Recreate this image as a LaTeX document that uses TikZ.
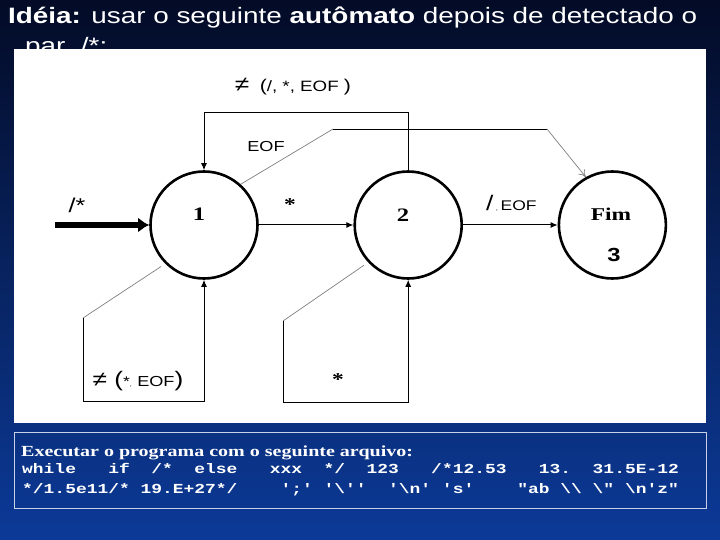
\documentclass[tikz,border=0pt]{standalone}
\usepackage{fontspec}
\setmainfont[FakeStretch=1.3]{Liberation Serif}
\setsansfont[FakeStretch=1.25]{Liberation Sans}
\setmonofont[FakeStretch=1.3]{Liberation Mono}
\usetikzlibrary{arrows.meta,positioning}
\definecolor{bgtop}{HTML}{030B26}
\definecolor{bgbot}{HTML}{0C3A98}
\definecolor{rim}{HTML}{C8D2E6}

\begin{document}
\begin{tikzpicture}[x=1pt,y=-1pt,node distance=94.6pt,
 st/.style={circle,draw,line width=2.6pt,minimum size=107pt,inner sep=0pt},
 lb/.style={inner sep=0pt,font=\sffamily\fontsize{15}{15}\selectfont},
 num/.style={inner sep=0pt,font=\bfseries\fontsize{19}{19}\selectfont},
 tw/.style={inner sep=0pt,anchor=base west,text=white},
 a/.style={-{Latex[length=7pt,width=6pt]},line width=1pt},
 dg/.style={draw=gray,line width=.7pt}]
\useasboundingbox (0,0) rectangle (720,540);
\shade[top color=bgtop,bottom color=bgbot] (0,0) rectangle (720,540);
\node[tw,font=\sffamily\fontsize{22.3}{26}\selectfont] (ttl) at (8,24) {\textbf{Idéia:} usar o seguinte \textbf{autômato} depois de detectado o};
\node[tw,font=\sffamily\fontsize{22.3}{26}\selectfont] (ttl2) at (25,54) {par~~/*:};
\fill[white] (14,49) rectangle (706,423);
\draw[rim,line width=.8pt] (14,432) rectangle (706,508);
\node[tw,font=\bfseries\fontsize{15.4}{18}\selectfont] (cap) at (21,456) {Executar o programa com o seguinte arquivo:};
\node[tw,font=\ttfamily\bfseries\fontsize{13.8}{16}\selectfont] (code1) at (22,473) {while~~~if~~/*~~else~~~xxx~~*/~~123~~~/*12.53~~~13.~~31.5E-12};
\node[tw,font=\ttfamily\bfseries\fontsize{13.8}{16}\selectfont] (code2) at (22,493) {*/1.5e11/*~19.E+27*/~~~~';'~'\textbackslash''~~'\textbackslash n'~'s'~~~~"ab~\textbackslash\textbackslash~\textbackslash"~\textbackslash n'z"};

\node[st] (s1) at (204,225) {};
\node[st,right=of s1] (s2) {};
\node[st,right=of s2] (s3) {};
\node[num] (n1) at (199,214) {1};
\node[num] (n2) at (403,215) {2};
\node[num,font=\bfseries\fontsize{18}{18}\selectfont] (fim) at (611,214) {Fim};
\node[num,font=\sffamily\bfseries\fontsize{19}{19}\selectfont] (n3) at (614,255) {3};

\coordinate (in) at (55,225);
\draw[line width=5.5pt,-{Latex[length=11pt,width=15pt]}] (in) -- (s1);
\node[lb,font=\sffamily\fontsize{20}{20}\selectfont] (lin) at (77,205) {/*};
\draw[a] (s1) -- (s2);
\node[num,font=\bfseries\fontsize{18}{18}\selectfont] (l12) at (290,205) {*};
\draw[a] (s2) -- (s3);
\node[lb,anchor=base west] (l23) at (486,211) {{\fontsize{21}{21}\selectfont /}\,{\fontsize{6}{6}\selectfont ,}\,{\fontsize{14}{14}\selectfont EOF}};

\draw[a] (s2.north) -- ++(0,-58) -| (s1.north);
\node[lb] (ltop) at (293,87) {{\fontsize{21}{21}\selectfont ≠}~~{\fontsize{17}{17}\selectfont (}/, *, EOF {\fontsize{17}{17}\selectfont )}};

\coordinate (e1) at (333,129);
\coordinate (e2) at (547,129);
\draw[dg] (s1.48) -- (e1);
\draw[line width=.9pt] (e1) -- (e2);
\draw[dg,-{To[length=7pt,width=8pt]}] (e2) -- (s3.119);
\node[lb,font=\sffamily\fontsize{14.5}{14.5}\selectfont] (leof) at (266,147) {EOF};

\coordinate (b1) at (83,318);
\coordinate (b2) at (83,401);
\draw[dg,shorten <=5pt] (s1.225) -- (b1);
\draw[a] (b1) -- (b2) -| (s1.south);
\node[lb] (lb1) at (138,381) {{\fontsize{21}{21}\selectfont ≠ (}{\fontsize{14}{14}\selectfont *}{\fontsize{6}{6}\selectfont ,} {\fontsize{14.5}{14.5}\selectfont EOF}{\fontsize{21}{21}\selectfont )}};

\coordinate (c1) at (283,321);
\coordinate (c2) at (283,402);
\draw[dg,shorten <=5pt] (s2.223) -- (c1);
\draw[a] (c1) -- (c2) -| (s2.south);
\node[num,font=\bfseries\fontsize{18}{18}\selectfont] (lb2) at (338,380) {*};
\end{tikzpicture}
\end{document}
